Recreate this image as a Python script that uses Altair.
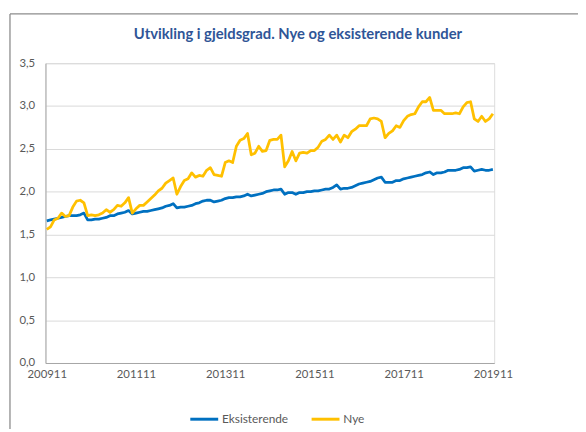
import altair as alt
import pandas as pd

months = [d.strftime("%Y%m") for d in pd.date_range("2009-11-01", "2019-11-01", freq="MS")]
tick_labels = ["200911", "201111", "201311", "201511", "201711", "201911"]
y_ticks = [0.0, 0.5, 1.0, 1.5, 2.0, 2.5, 3.0, 3.5]
title_text = ["Utvikling i gjeldsgrad. Nye og eksisterende kunder"]

eksisterende = [
    1.66, 1.67, 1.68, 1.69, 1.70, 1.71, 1.72, 1.72, 1.72, 1.73,
    1.75, 1.67, 1.67, 1.68, 1.68, 1.69, 1.70, 1.72, 1.72, 1.74,
    1.75, 1.76, 1.78, 1.74, 1.75, 1.76, 1.77, 1.77, 1.78, 1.79,
    1.80, 1.81, 1.83, 1.84, 1.86, 1.81, 1.82, 1.82, 1.83, 1.84,
    1.86, 1.87, 1.89, 1.90, 1.90, 1.88, 1.89, 1.90, 1.92, 1.93,
    1.93, 1.94, 1.94, 1.95, 1.97, 1.95, 1.96, 1.97, 1.98, 2.00,
    2.01, 2.02, 2.02, 2.03, 1.97, 1.99, 1.99, 1.97, 1.99, 1.99,
    2.00, 2.00, 2.01, 2.01, 2.02, 2.03, 2.03, 2.05, 2.08, 2.03,
    2.04, 2.04, 2.05, 2.07, 2.09, 2.10, 2.11, 2.12, 2.14, 2.16,
    2.17, 2.11, 2.11, 2.11, 2.13, 2.13, 2.15, 2.16, 2.17, 2.18,
    2.19, 2.20, 2.22, 2.23, 2.20, 2.22, 2.22, 2.23, 2.25, 2.25,
    2.25, 2.26, 2.28, 2.28, 2.29, 2.24, 2.25, 2.26, 2.25, 2.25,
    2.26,
]

nye = [
    1.56, 1.59, 1.67, 1.69, 1.75, 1.71, 1.72, 1.82, 1.89, 1.90,
    1.87, 1.72, 1.73, 1.72, 1.73, 1.75, 1.79, 1.76, 1.79, 1.84,
    1.83, 1.87, 1.93, 1.75, 1.80, 1.84, 1.84, 1.88, 1.92, 1.96,
    2.01, 2.04, 2.10, 2.13, 2.16, 1.97, 2.06, 2.13, 2.15, 2.22,
    2.17, 2.19, 2.18, 2.25, 2.28, 2.20, 2.19, 2.18, 2.34, 2.36,
    2.34, 2.53, 2.60, 2.62, 2.68, 2.43, 2.45, 2.53, 2.47, 2.48,
    2.60, 2.61, 2.61, 2.66, 2.29, 2.36, 2.47, 2.36, 2.45, 2.46,
    2.45, 2.48, 2.48, 2.52, 2.59, 2.61, 2.66, 2.61, 2.66, 2.58,
    2.66, 2.63, 2.70, 2.73, 2.77, 2.77, 2.77, 2.85, 2.86, 2.85,
    2.82, 2.63, 2.68, 2.71, 2.77, 2.75, 2.83, 2.88, 2.90, 2.91,
    2.99, 3.05, 3.05, 3.10, 2.95, 2.95, 2.95, 2.91, 2.91, 2.91,
    2.92, 2.91, 2.99, 3.04, 3.05, 2.85, 2.82, 2.88, 2.82, 2.85,
    2.91,
]

series_names = ["Eksisterende", "Nye"]
series_colors = ["#0070C0", "#FFC000"]

df = pd.concat([
    pd.DataFrame({"month": months, "value": eksisterende, "serie": "Eksisterende"}),
    pd.DataFrame({"month": months, "value": nye, "serie": "Nye"}),
])

FONT = "Lato"
GRAY = "#595959"

lines = alt.Chart(df).mark_line(strokeWidth=2.8, strokeJoin="round").encode(
    x=alt.X("month:O", sort=months,
            scale=alt.Scale(type="point", padding=0.35),
            axis=alt.Axis(values=tick_labels, title=None, labelAngle=0, ticks=False,
                          domainColor="#A6A6A6", labelColor=GRAY, labelFont=FONT,
                          labelFontSize=11.5, labelPadding=6, grid=False)),
    y=alt.Y("value:Q", scale=alt.Scale(domain=[0, 3.5]),
            axis=alt.Axis(values=y_ticks, title=None, ticks=False, domainColor="#A6A6A6",
                          gridColor="#D9D9D9", labelColor=GRAY, labelFont=FONT,
                          labelFontSize=11.5, labelPadding=11,
                          labelExpr="replace(format(datum.value, '.1f'), '.', ',')")),
    color=alt.Color("serie:N", scale=alt.Scale(domain=series_names, range=series_colors),
                    legend=alt.Legend(title=None, orient="none", direction="horizontal",
                                      legendX=145, legendY=345, symbolType="stroke",
                                      symbolSize=800, symbolStrokeWidth=3,
                                      labelFont=FONT, labelFontSize=12, labelColor=GRAY,
                                      labelOffset=2, columnPadding=16, padding=0)),
    detail="serie:N",
)

title = alt.Chart(pd.DataFrame({"t": title_text})).mark_text(
    font=FONT, fontSize=15, fontWeight="bold", color="#2F5597",
    align="center", baseline="middle",
).encode(text="t:N", x=alt.value(256), y=alt.value(-30))

frame_df = pd.DataFrame({"k": [0]})
top_line = alt.Chart(frame_df).mark_rule(color="#8C8C8C", strokeWidth=1.3).encode(
    x=alt.value(-36), x2=alt.value(540), y=alt.value(-50))
left_line = alt.Chart(frame_df).mark_rule(color="#8C8C8C", strokeWidth=1.3).encode(
    x=alt.value(-36), y=alt.value(-50), y2=alt.value(371))

chart = alt.layer(lines, title, top_line, left_line).properties(
    width=455, height=304,
    autosize=alt.AutoSizeParams(type="none"),
    padding={"left": 38, "top": 53, "right": 85, "bottom": 67},
).configure_view(stroke=None).configure(background="white")

chart.save("out.html", embed_options={"renderer": "svg", "actions": False})
